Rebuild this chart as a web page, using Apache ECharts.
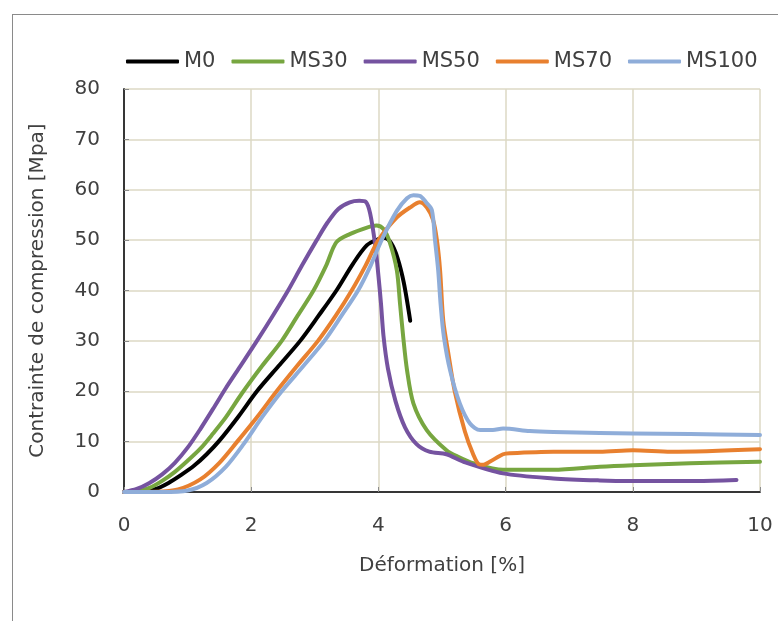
<!DOCTYPE html>
<html>
<head>
<meta charset="utf-8">
<script src="https://cdn.jsdelivr.net/npm/echarts@6/dist/echarts.min.js"></script>
<style>
  html, body { margin: 0; padding: 0; background: #fff; }
  #frame { position: absolute; left: 12px; top: 14px; width: 780px; height: 620px; border: 1.5px solid #8a8a8a; box-sizing: border-box; }
  #chart { position: absolute; left: 0; top: 0; width: 778px; height: 621px; }
</style>
</head>
<body>
<div id="frame"></div>
<div id="chart"></div>
<script>
  // courbes contrainte / déformation, [déformation %, contrainte MPa]
  const M0 = [[0, 0], [0.3, 0.1], [0.5, 0.6], [0.7, 1.8], [0.9, 3.4], [1.1, 5.2], [1.3, 7.5], [1.5, 10.2],
    [1.8, 15], [2.09, 20], [2.43, 25], [2.77, 30], [3.06, 35], [3.34, 40], [3.6, 45.3], [3.82, 49],
    [4.0, 50.2], [4.1, 50.4], [4.2, 49.4], [4.3, 46.5], [4.4, 41.5], [4.5, 34]];
  const MS30 = [[0, 0], [0.2, 0.1], [0.4, 0.8], [0.6, 2.2], [0.8, 4.0], [1.0, 6.2], [1.2, 8.6], [1.4, 11.6],
    [1.6, 14.8], [1.85, 19.5], [2.17, 25], [2.48, 30], [2.73, 35], [2.98, 40], [3.18, 45], [3.34, 49.6],
    [3.55, 51.2], [3.82, 52.5], [3.97, 52.9], [4.08, 52.2], [4.18, 49.5], [4.29, 44], [4.34, 37.4],
    [4.39, 30.8], [4.45, 24.2], [4.55, 17.6], [4.76, 12.3], [5.07, 8.3], [5.25, 7.0], [5.49, 5.7],
    [5.96, 4.4], [6.75, 4.4], [7.48, 5.0], [8.0, 5.3], [8.9, 5.7], [10, 6.0]];
  const MS50 = [[0, 0], [0.2, 0.6], [0.4, 1.8], [0.6, 3.5], [0.8, 5.8], [1.0, 8.8], [1.2, 12.5], [1.4, 16.5],
    [1.6, 20.6], [1.83, 25], [2.09, 30], [2.34, 35], [2.58, 40], [2.8, 45], [3.03, 50], [3.2, 53.5],
    [3.37, 56.2], [3.55, 57.5], [3.7, 57.8], [3.8, 57.6], [3.87, 55.3], [3.95, 49], [4.0, 43],
    [4.04, 37.5], [4.08, 31], [4.15, 24.5], [4.27, 18], [4.42, 12.8], [4.6, 9.5], [4.8, 8.0],
    [5.07, 7.5], [5.34, 6.0], [5.96, 3.7], [6.75, 2.7], [7.48, 2.3], [8.0, 2.2], [9.0, 2.2], [9.63, 2.4]];
  const MS70 = [[0, 0], [0.5, 0.05], [0.85, 0.5], [1.2, 2.5], [1.5, 5.8], [1.78, 10], [2.1, 15], [2.4, 20],
    [2.72, 25], [3.05, 30], [3.33, 35], [3.58, 40], [3.8, 45], [4.0, 50], [4.29, 54.5], [4.5, 56.5],
    [4.65, 57.5], [4.76, 56.5], [4.86, 54], [4.92, 50], [4.97, 44], [5.02, 34], [5.1, 27.5], [5.2, 20],
    [5.36, 12], [5.49, 7.5], [5.58, 5.5], [5.65, 5.4], [5.75, 6.0], [5.96, 7.5], [6.07, 7.7], [6.75, 8.0],
    [7.48, 8.0], [8.0, 8.3], [8.6, 8.0], [10, 8.5]];
  const MS100 = [[0, 0], [0.6, 0], [1.0, 0.3], [1.3, 1.8], [1.6, 5.0], [1.88, 9.5], [2.18, 15], [2.48, 20],
    [2.82, 25], [3.15, 30], [3.42, 35], [3.68, 40], [3.88, 45], [4.05, 50], [4.29, 55.8], [4.45, 58.3],
    [4.55, 58.9], [4.65, 58.8], [4.75, 57.5], [4.84, 56], [4.89, 50], [4.94, 44], [4.98, 37], [5.03, 30.8],
    [5.13, 24], [5.28, 17.6], [5.44, 13.6], [5.6, 12.3], [5.8, 12.3], [5.96, 12.6], [6.38, 12.1],
    [6.75, 11.9], [7.48, 11.7], [8.0, 11.6], [8.9, 11.5], [10, 11.3]];

  const names = ['M0', 'MS30', 'MS50', 'MS70', 'MS100'];
  const curves = [M0, MS30, MS50, MS70, MS100];
  const colors = ['#000000', '#77a640', '#7553a0', '#e8802f', '#8fadd9'];

  const font = 'DejaVu Sans';
  const textColor = '#404040';

  const chart = echarts.init(document.getElementById('chart'));
  chart.setOption({
    animation: false,
    color: colors,
    textStyle: { fontFamily: font },
    legend: {
      top: 46,
      left: 121,
      icon: 'roundRect',
      itemWidth: 53,
      itemHeight: 4,
      itemGap: 16,
      textStyle: { fontFamily: font, fontSize: 21, color: textColor },
      data: names
    },
    grid: { left: 124, right: 18, top: 89, bottom: 129 },
    xAxis: [{
      type: 'value',
      min: 0, max: 10, interval: 2,
      name: 'Déformation [%]',
      nameLocation: 'middle',
      nameGap: 64,
      nameTextStyle: { fontFamily: font, fontSize: 20, color: textColor },
      axisLine: { show: true, lineStyle: { color: '#8c8c8c', width: 2 } },
      axisTick: { show: true, inside: true, length: 5, lineStyle: { color: '#8c8c8c' } },
      axisLabel: { margin: 24, fontFamily: font, fontSize: 20, color: textColor },
      splitLine: { show: true, lineStyle: { color: '#dcd8c4', width: 1.5 } }
    }, {
      type: 'value', position: 'top', min: 0, max: 10,
      axisLine: { show: true, lineStyle: { color: '#1a1a1a', width: 1.5 } },
      axisTick: { show: false }, axisLabel: { show: false }, splitLine: { show: false }
    }],
    yAxis: [{
      type: 'value',
      min: 0, max: 80, interval: 10,
      name: 'Contrainte de compression [Mpa]',
      nameLocation: 'middle',
      nameGap: 76,
      nameTextStyle: { fontFamily: font, fontSize: 20, color: textColor },
      axisLine: { show: true, lineStyle: { color: '#8c8c8c', width: 2 } },
      axisTick: { show: true, inside: true, length: 5, lineStyle: { color: '#8c8c8c' } },
      axisLabel: { margin: 24, fontFamily: font, fontSize: 20, color: textColor },
      splitLine: { show: true, lineStyle: { color: '#dcd8c4', width: 1.5 } }
    }, {
      type: 'value', position: 'right', min: 0, max: 80,
      axisLine: { show: true, lineStyle: { color: '#1a1a1a', width: 1.5 } },
      axisTick: { show: false }, axisLabel: { show: false }, splitLine: { show: false }
    }],
    series: curves.map((d, i) => ({
      name: names[i],
      type: 'line',
      data: d,
      smooth: 0.3,
      showSymbol: false,
      lineStyle: { width: 4, color: colors[i], cap: 'round', join: 'round' },
      z: 2 + i
    }))
  });
</script>
</body>
</html>
